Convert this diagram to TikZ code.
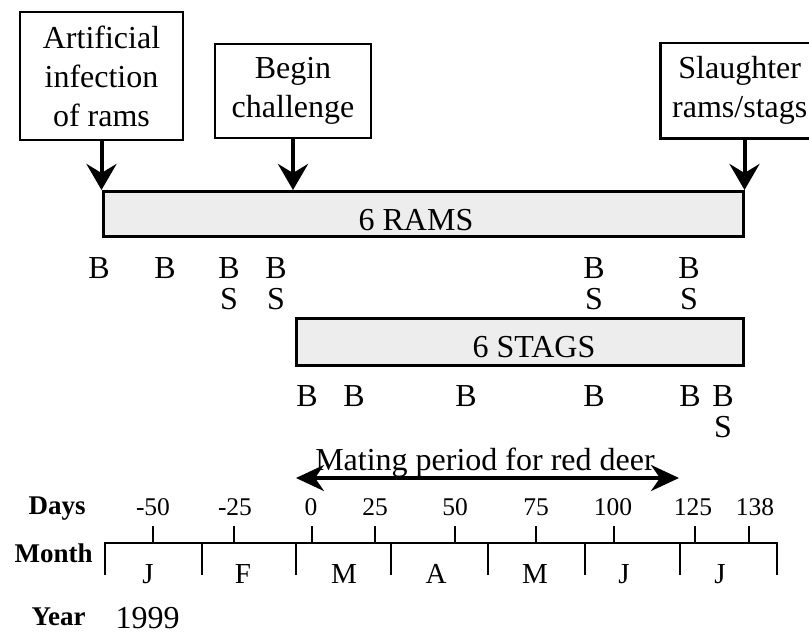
\documentclass[tikz,border=0pt]{standalone}
\usepackage{fontspec}
\setmainfont{Liberation Serif}
\usetikzlibrary{positioning,arrows.meta}
\tikzset{
  lbl/.style={font=\fontsize{32}{39}\selectfont},
  box/.style={lbl,draw,line width=2.5pt,align=center,inner sep=0pt},
  bar/.style={draw,line width=2.5pt,fill=black!7,inner sep=0pt,anchor=north west},
  smp/.style={lbl,anchor=base},
  num/.style={font=\fontsize{25.5}{30}\selectfont,anchor=base},
  mon/.style={font=\fontsize{29}{34}\selectfont,anchor=base},
  hd/.style={font=\fontsize{27}{30}\selectfont\bfseries,anchor=base west},
  ar/.style={-{Stealth[length=26pt,width=30pt,inset=9pt]},line width=4pt},
  dar/.style={{Stealth[length=28pt,width=26pt,inset=9pt]}-{Stealth[length=28pt,width=26pt,inset=9pt]},line width=3.5pt},
  ax/.style={line width=2pt},
}
\begin{document}
\begin{tikzpicture}[x=1pt,y=-1pt]
  \useasboundingbox (0,0) rectangle (809,634);
  \node[box,minimum width=163pt,minimum height=128pt] (inf) at (101.5,76) {Artificial\\infection\\of rams};
  \node[box,minimum width=156pt,minimum height=94pt] (chal) at (293,91) {Begin\\challenge};
  \node[box,minimum width=159pt,minimum height=95pt,anchor=north west] (slau) at (659,42) {Slaughter\\rams/stags};
  \node[bar,minimum width=640pt,minimum height=45pt] (rams) at (102,190) {};
  \node[smp] (ramsl) at (416,230) {6 RAMS};
  \node[bar,minimum width=447pt,minimum height=47pt] (stags) at (295,317) {};
  \node[smp] (stagsl) at (534,357) {6 STAGS};
  \draw[ar] (inf.south) -- (inf.south |- rams.north);
  \draw[ar] (chal.south) -- (chal.south |- rams.north);
  \draw[ar] (slau.south -| rams.north east) -- (rams.north east);
  \foreach \x [count=\i] in {99,165,229,276,594,689} \node[smp] (rb\i) at (\x,278) {B};
  \foreach \x [count=\i] in {229,276,594,689} \node[smp] (rs\i) at (\x,309) {S};
  \foreach \x [count=\i] in {307,354,466,594,690,723} \node[smp] (sb\i) at (\x,406) {B};
  \node[smp] (ss1) at (723,437) {S};
  \coordinate (mS) at (296,478);
  \coordinate (mE) at (679,478);
  \draw[dar] (mS) -- (mE);
  \node[smp] (mat) at (485,470) {Mating period for red deer};
  \draw[ax] (105,575) -- (105,543) -- (777,543) -- (777,575);
  \foreach \x in {202,296,391,488,585,680} \draw[ax] (\x,543) -- (\x,575);
  \foreach \x in {153,234,312,375,455,536,614,695,749} \draw[ax] (\x,526) -- (\x,543);
  \foreach \x/\d [count=\i] in {153/-50,235/-25,311/0,375/25,455/50,536/75,613/100,693/125,755/138}
    \node[num] (d\i) at (\x,515) {\d};
  \foreach \x/\m [count=\i] in {148/J,243/F,344/M,436/A,535/M,624/J,720/J}
    \node[mon] (m\i) at (\x,583) {\m};
  \node[hd] (days) at (25,514) {Days};
  \node[hd] (month) at (11,562) {Month};
  \node[hd] (year) at (28,625) {Year};
  \node[lbl,anchor=base west] (yr) at (112,628) {1999};
\end{tikzpicture}
\end{document}
